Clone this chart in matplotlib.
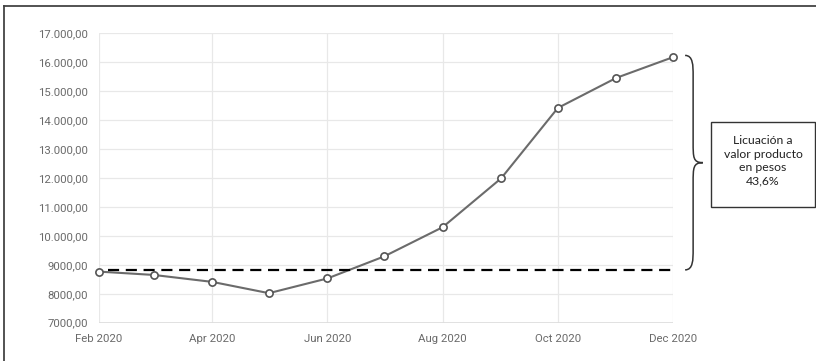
import matplotlib
matplotlib.use("Agg")
import matplotlib.pyplot as plt
import matplotlib.dates as mdates
import matplotlib.transforms as mtransforms
from matplotlib.path import Path
from matplotlib.patches import PathPatch
from matplotlib.lines import Line2D
import numpy as np

months = np.arange("2020-02", "2021-01", dtype="datetime64[M]").astype("datetime64[D]")
values = [8765, 8650, 8410, 8020, 8530, 9290, 10300, 11990, 14420, 15460, 16175]
base_level = 8825
dash_start = np.datetime64("2020-02-06")
note = "Licuación a\nvalor producto\nen pesos\n43,6%"

plt.rcParams["font.family"] = ["Roboto", "DejaVu Sans"]

fig = plt.figure(figsize=(8.16, 3.61), dpi=100)
ax = fig.add_axes([0.1213, 0.1061, 0.7035, 0.8017])

def fmt_y(v, pos):
    s = "{:.2f}".format(v).replace(".", ",")
    if v >= 10000:
        s = "{:,.2f}".format(v).replace(",", "X").replace(".", ",").replace("X", ".")
    return s

ax.plot(months, values, color="#6b6b6b", lw=1.5, marker="o", ms=5.2,
        mfc="white", mec="#555555", mew=1.2, clip_on=False, zorder=3)
ax.hlines(base_level, dash_start, months[-1], colors="black", lw=1.6,
          linestyles=(0, (5, 3)), zorder=4)

ax.set_xlim(months[0], months[-1])
ax.set_ylim(7000, 17000)
ax.set_yticks(np.arange(7000, 17001, 1000))
ax.yaxis.set_major_formatter(plt.FuncFormatter(fmt_y))
ax.xaxis.set_major_locator(mdates.MonthLocator(bymonth=[2, 4, 6, 8, 10, 12]))
ax.xaxis.set_major_formatter(mdates.DateFormatter("%b %Y"))
ax.tick_params(length=0, labelsize=8.2, labelcolor="#6a6a6a")
ax.tick_params(axis="y", pad=8)
ax.tick_params(axis="x", pad=8)
ax.grid(True, color="#e8e8e8", lw=0.9)
ax.set_axisbelow(True)
for s in ax.spines.values():
    s.set_visible(False)
ax.axhline(7000, color="#dcdcdc", lw=1.2, zorder=1)

# curly brace spanning from the base level up to the last value
tr = mtransforms.blended_transform_factory(ax.transAxes, ax.transData)
x0, x1, x2 = 1.021, 1.035, 1.052
top, bot = values[-1] + 60, base_level
mid = (top + bot) / 2
r = 350
verts = [(x0, top), (x1, top), (x1, top - r), (x1, top - 2 * r),
         (x1, mid + 2 * r),
         (x1, mid + r / 2), (x1, mid), (x2, mid),
         (x1, mid), (x1, mid - r / 2), (x1, mid - 2 * r),
         (x1, bot + 2 * r),
         (x1, bot + r), (x1, bot), (x0, bot)]
codes = [Path.MOVETO, Path.CURVE4, Path.CURVE4, Path.CURVE4,
         Path.LINETO,
         Path.CURVE4, Path.CURVE4, Path.CURVE4,
         Path.CURVE4, Path.CURVE4, Path.CURVE4,
         Path.LINETO,
         Path.CURVE4, Path.CURVE4, Path.CURVE4]
ax.add_patch(PathPatch(Path(verts, codes), transform=tr, fill=False,
                       ec="#333333", lw=1.1, clip_on=False))

# note box
fig.add_artist(plt.Rectangle((711 / 816, 1 - 207.5 / 361), 104 / 816, 85.5 / 361,
                             transform=fig.transFigure, fill=False,
                             ec="#333333", lw=1.0))
fig.text(763 / 816, 1 - 161 / 361, note, ha="center", va="center", fontsize=8.8,
         family=["Lato", "DejaVu Sans"], color="#222222", linespacing=1.27)

# outer frame
fig.add_artist(Line2D([4 / 816, 1], [1 - 6 / 361] * 2, transform=fig.transFigure,
                      color="#444444", lw=1.3))
fig.add_artist(Line2D([4 / 816] * 2, [0, 1 - 6 / 361], transform=fig.transFigure,
                      color="#444444", lw=1.3))

fig.savefig("out.png", dpi=100)
